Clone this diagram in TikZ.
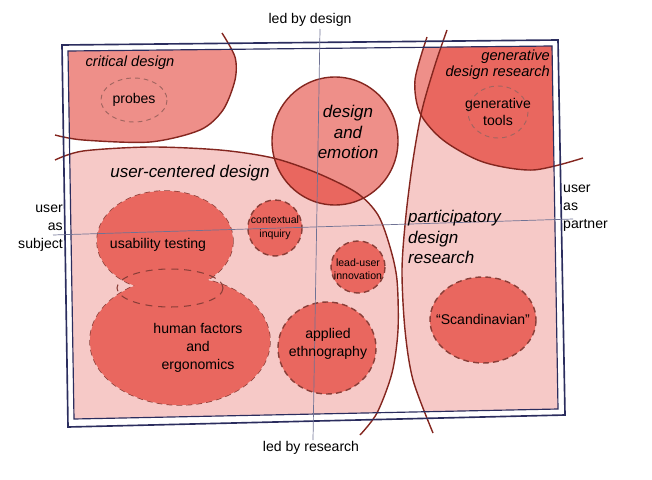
\documentclass[tikz,border=0pt]{standalone}
\usepackage{fontspec}
\setmainfont{Liberation Sans}
\definecolor{mapLight}{HTML}{F6C9C7}
\definecolor{mapMid}{HTML}{EE8F89}
\definecolor{mapDark}{HTML}{E9675F}
\definecolor{mapLine}{HTML}{84261F}
\definecolor{mapDash}{HTML}{8A3E38}
\definecolor{mapFrame}{HTML}{2B2D5E}
\definecolor{mapAxis}{HTML}{6F7294}

% boundary curves of the regions
\def\cdpath{plot[smooth] coordinates {(55,135) (83,140) (150,142) (200,130) (223,110) (235,80) (235,57) (222,33)}}
\def\ucdpath{plot[smooth] coordinates {(55,160) (83,151) (150,147) (220,150) (273,158) (317,173) (357,193) (378,215) (390,247) (397,280) (398,330) (392,373) (377,413) (360,435)}}
\def\pdpath{plot[smooth] coordinates {(447,30) (435,65) (422,110) (413,160) (406,215) (402,270) (405,330) (413,380) (433,433)}}
\def\gdrpath{plot[smooth] coordinates {(427,37) (415,80) (420,113) (443,140) (483,162) (533,170) (583,158)}}

\begin{document}
\begin{tikzpicture}[
  x=0.03cm, y=-0.03cm,
  region/.style={draw=mapLine, line width=1.2pt},
  blob/.style={fill=mapDark},
  blobline/.style={draw=mapDash, line width=1.2pt, dash pattern=on 5pt off 3.5pt},
  hint/.style={draw=mapDash!80, line width=0.8pt, dash pattern=on 4pt off 3.5pt},
  lbl/.style={font=\fontsize{12}{15.3}\selectfont, align=center, inner sep=0pt},
  title/.style={font=\fontsize{12.5}{13.8}\selectfont\itshape, inner sep=0pt},
  big/.style={font=\fontsize{14.5}{17.8}\selectfont\itshape, inner sep=0pt},
  smalltxt/.style={font=\fontsize{9}{11.5}\selectfont, align=center, inner sep=0pt},
  axisline/.style={draw=mapAxis, line width=0.6pt}
]
  \useasboundingbox (0,0) rectangle (652,479);

  % Region fills, kept inside the frame
  \begin{scope}
    \clip (68,51) -- (552,46) -- (558,409) -- (74,419) -- cycle;
    \fill[mapMid] \cdpath -- (40,20) -- (40,135) -- cycle;
    \fill[mapLight] \ucdpath -- (40,440) -- (40,160) -- cycle;
    \fill[mapLight] \pdpath -- (620,440) -- (620,20) -- cycle;
    \begin{scope}
      \clip \gdrpath -- (620,10) -- (427,10) -- cycle;
      \fill[mapMid] (0,0) rectangle (652,479);
      \fill[mapDark] \pdpath -- (620,440) -- (620,20) -- cycle;
    \end{scope}
    % design and emotion, darker where it meets user-centered design
    \fill[mapMid] (335,141) ellipse [x radius=63, y radius=64];
    \begin{scope}
      \clip \ucdpath -- (40,440) -- (40,160) -- cycle;
      \fill[mapDark] (335,141) ellipse [x radius=63, y radius=64];
    \end{scope}
  \end{scope}
  \draw[region] (335,141) ellipse [x radius=63, y radius=64];

  % Region borders
  \draw[region] \cdpath;
  \draw[region] \ucdpath;
  \draw[region] \pdpath;
  \draw[region] \gdrpath;

  % Methods (dashed blobs)
  \draw[blobline] (165,241) ellipse [x radius=68, y radius=50];
  \draw[blobline] (180,341) ellipse [x radius=90, y radius=64];
  \fill[blob] (165,241) ellipse [x radius=68, y radius=50];
  \fill[blob] (180,341) ellipse [x radius=90, y radius=64];
  \draw[blobline, line width=0.9pt, dash pattern=on 6pt off 5pt] (170,288) ellipse [x radius=53, y radius=19];
  \draw[blob, blobline] (275,228) ellipse [x radius=27, y radius=28];
  \draw[blob, blobline] (358,267) ellipse [x radius=27, y radius=26];
  \draw[blob, blobline] (327,348) ellipse [x radius=49, y radius=46];
  \draw[blob, blobline] (483,320) ellipse [x radius=53, y radius=43];
  \draw[hint] (134,100) ellipse [x radius=33, y radius=22];
  \draw[hint] (498,112) ellipse [x radius=30, y radius=26];

  % Double frame
  \draw[mapFrame, line width=1.4pt] (62,45) -- (558,40) -- (565,415) -- (68,427) -- cycle;
  \draw[mapFrame, line width=1pt] (68,51) -- (552,46) -- (558,409) -- (74,419) -- cycle;

  % Axes
  \coordinate (vtop) at (320,29);
  \coordinate (vbot) at (313,440);
  \coordinate (hleft) at (53,235);
  \coordinate (hright) at (573,219);
  \draw[axisline] (vtop) -- (vbot);
  \draw[axisline] (hleft) -- (hright);

  % Labels
  \node[lbl] (leddesign) at (310,20) {led by design};
  \node[lbl] (ledresearch) at (311,448) {led by research};
  \node[lbl, align=right, anchor=east] (subject) at (63,228) {user\\as\\subject};
  \node[lbl, align=left, anchor=west] (partner) at (563,208) {user\\as\\partner};
  \node[title] (critical) at (130,63) {critical design};
  \node[lbl] (probes) at (134,100) {probes};
  \node[big] (ucd) at (190,173) {user-centered design};
  \node[big, align=center] (emotion) at (348,132) {design\\and\\emotion};
  \node[title, align=right, anchor=east] (gdr) at (550,65) {generative\\design research};
  \node[lbl] (gentools) at (498,112) {generative\\tools};
  \node[big, align=left, anchor=west] (pdr) at (408,237) {participatory\\design\\research};
  \node[lbl] (usability) at (158,245) {usability testing};
  \node[lbl] (hfe) at (198,348) {human factors\\and\\ergonomics};
  \node[smalltxt] (context) at (275,228) {contextual\\inquiry};
  \node[smalltxt] (leaduser) at (358,269) {lead-user\\innovation};
  \node[lbl] (ethno) at (328,344) {applied\\ethnography};
  \node[lbl] (scandi) at (483,319) {“Scandinavian”};
\end{tikzpicture}
\end{document}
